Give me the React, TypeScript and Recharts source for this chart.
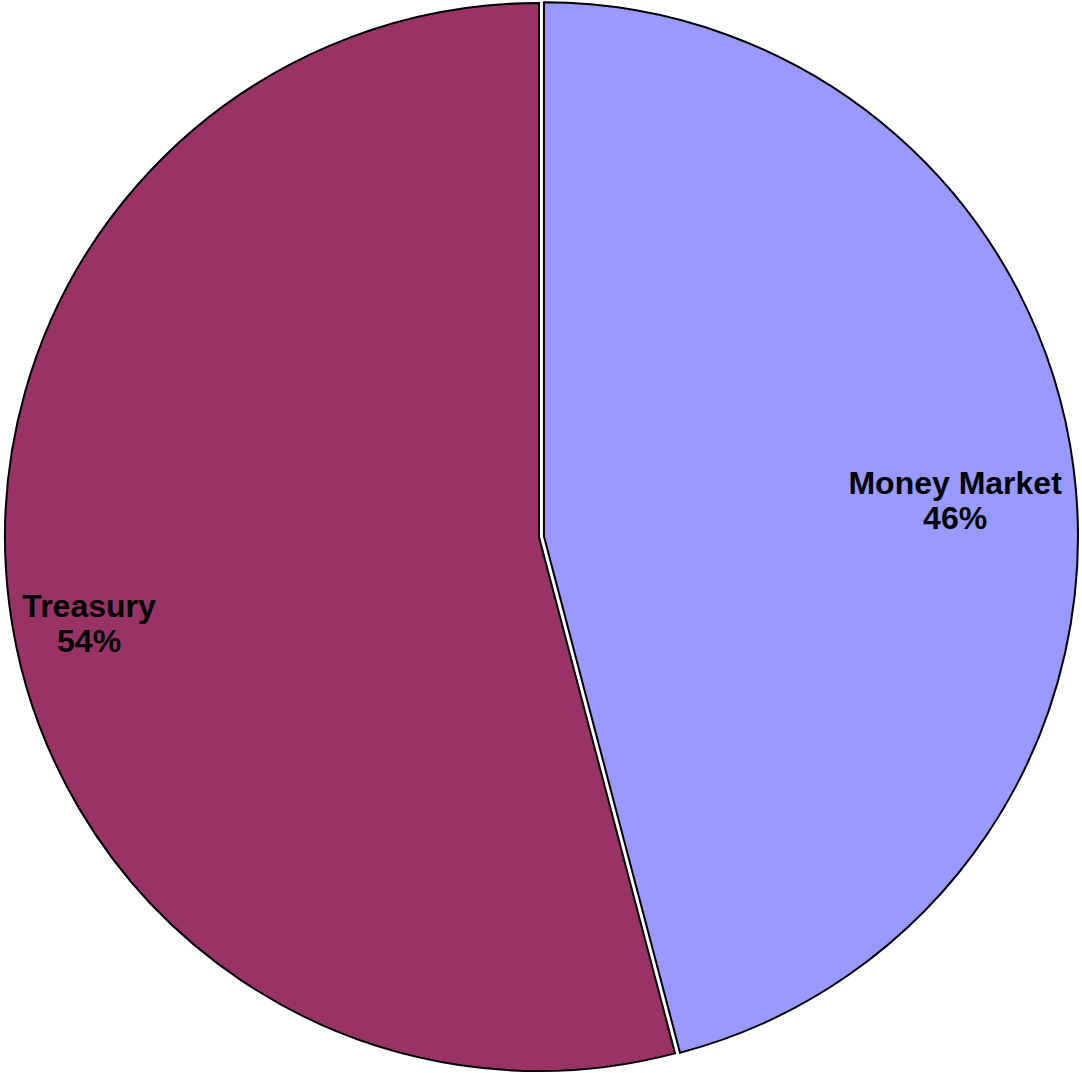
import { PieChart, Pie, Cell } from "recharts";

// Portfolio mix (percent of total)
const categories = ["Money Market", "Treasury"];
const shares = [45.9, 54.1];
const colors = ["#9999FF", "#993366"];

const chartData = categories.map((name, i) => ({ name, value: shares[i] }));

const RADIAN = Math.PI / 180;
const CX = 539;
const CY = 537;
const R = 534;
// Money Market slice is pulled out a little
const EXPLODE = 5;

// label placement tweaks (radius factor, angle shift in degrees)
const labelPos: Record<string, { rf: number; shift: number }> = {
  "Money Market": { rf: 0.773, shift: -2.3 },
  Treasury: { rf: 0.858, shift: 3.5 },
};

function renderLabel(visibleName: string) {
  return (props: any) => {
    const { cx, cy, midAngle, outerRadius, percent, name } = props;
    if (name !== visibleName) return null;
    const pos = labelPos[name];
    const a = (midAngle + pos.shift) * RADIAN;
    const r = outerRadius * pos.rf;
    const x = cx + r * Math.cos(a);
    const y = cy - r * Math.sin(a);
    return (
      <text
        x={x}
        y={y}
        textAnchor="middle"
        fill="#000"
        fontFamily="'Liberation Sans', Arial, sans-serif"
        fontWeight="bold"
        fontSize={32}
      >
        <tspan x={x} dy={-6}>
          {name}
        </tspan>
        <tspan x={x} dy={35}>
          {Math.round(percent * 100)}%
        </tspan>
      </text>
    );
  };
}

export default function App() {
  const mid = 90 - (shares[0] / (shares[0] + shares[1])) * 180;
  const dx = EXPLODE * Math.cos(mid * RADIAN);
  const dy = -EXPLODE * Math.sin(mid * RADIAN);

  return (
    <div style={{ position: "absolute", left: 0, top: 0, width: 1082, height: 1073, background: "#fff" }}>
      <PieChart width={1082} height={1073} margin={{ top: 0, right: 0, bottom: 0, left: 0 }}>
        <Pie
          data={chartData}
          dataKey="value"
          nameKey="name"
          cx={CX}
          cy={CY}
          outerRadius={R}
          startAngle={90}
          endAngle={-270}
          stroke="#000"
          strokeWidth={2}
          labelLine={false}
          label={renderLabel("Treasury")}
          isAnimationActive={false}
        >
          {chartData.map((d, i) =>
            d.name === "Treasury" ? (
              <Cell key={d.name} fill={colors[i]} stroke="#000" strokeWidth={2} />
            ) : (
              <Cell key={d.name} fill="none" stroke="none" />
            )
          )}
        </Pie>
        <Pie
          data={chartData}
          dataKey="value"
          nameKey="name"
          cx={CX + dx}
          cy={CY + dy}
          outerRadius={R}
          startAngle={90}
          endAngle={-270}
          stroke="#000"
          strokeWidth={2}
          labelLine={false}
          label={renderLabel("Money Market")}
          isAnimationActive={false}
        >
          {chartData.map((d, i) =>
            d.name === "Money Market" ? (
              <Cell key={d.name} fill={colors[i]} stroke="#000" strokeWidth={2} />
            ) : (
              <Cell key={d.name} fill="none" stroke="none" />
            )
          )}
        </Pie>
      </PieChart>
    </div>
  );
}
